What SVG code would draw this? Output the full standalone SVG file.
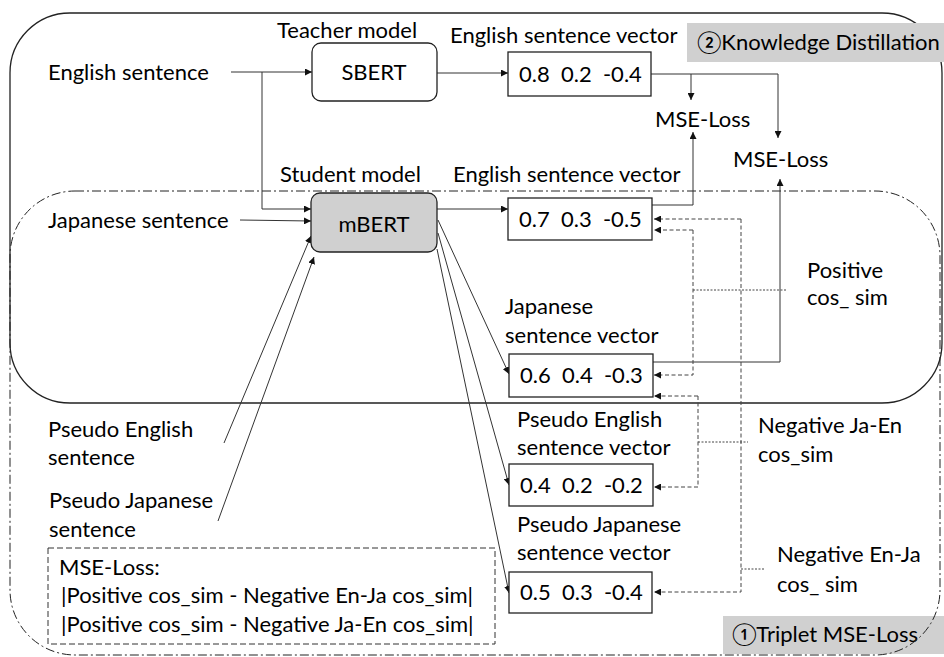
<svg xmlns="http://www.w3.org/2000/svg" width="944" height="657" viewBox="0 0 944 657">
<style>
text{font-family:Lato,"Liberation Sans","DejaVu Sans",sans-serif;font-size:22px;fill:#000}
.val{font-size:22px}
.box{fill:#fff;stroke:#222;stroke-width:1.3}
.ln{fill:none;stroke:#333;stroke-width:1}
.dash{fill:none;stroke:#444;stroke-width:1;stroke-dasharray:4 2.5}
.dot{fill:none;stroke:#444;stroke-width:1;stroke-dasharray:2 1.5}
.tag{fill:#d0d0d0}
</style>
<defs>
<marker id="ah" viewBox="0 0 10 10" refX="10" refY="5" markerWidth="7" markerHeight="7" markerUnits="userSpaceOnUse" orient="auto"><path d="M0,0 L10,5 L0,10 z" fill="#111"/></marker>
</defs>
<g id="frame-kd">
<rect x="10" y="13" width="932" height="390" rx="60" ry="60" fill="none" stroke="#222" stroke-width="1.3"/>
</g>
<g id="label-kd"><rect class="tag" x="687" y="23" width="257" height="39"/><text x="697" y="50">②Knowledge Distillation</text></g>
<g id="label-triplet"><rect class="tag" x="723" y="616" width="221" height="38"/><text x="732" y="642">①Triplet MSE-Loss</text></g>
<g id="frame-triplet">
<rect x="10" y="191" width="930" height="464" rx="65" ry="65" fill="none" stroke="#222" stroke-width="1" stroke-dasharray="9 3 2 3"/>
</g>
<g id="connectors">
<polyline class="ln" points="231,72 312,72" marker-end="url(#ah)"/>
<polyline class="ln" points="262,72 262,209 311,209" marker-end="url(#ah)"/>
<polyline class="ln" points="240,220 311,221" marker-end="url(#ah)"/>
<line class="ln" x1="224" y1="443" x2="311" y2="236" marker-end="url(#ah)"/>
<line class="ln" x1="218" y1="521" x2="314" y2="257" marker-end="url(#ah)"/>
<line class="ln" x1="437" y1="73" x2="508" y2="73" marker-end="url(#ah)"/>
<line class="ln" x1="437" y1="209" x2="508" y2="209" marker-end="url(#ah)"/>
<line class="ln" x1="438" y1="220" x2="509" y2="374" marker-end="url(#ah)"/>
<line class="ln" x1="438" y1="233" x2="509" y2="485" marker-end="url(#ah)"/>
<line class="ln" x1="437" y1="249" x2="509" y2="593" marker-end="url(#ah)"/>
<polyline class="ln" points="651,74 778,74 778,138" marker-end="url(#ah)"/>
<polyline class="ln" points="691,74 691,100" marker-end="url(#ah)"/>
<polyline class="ln" points="652,205 693,205 693,132" marker-end="url(#ah)"/>
<polyline class="ln" points="653,362 780,362 780,179" marker-end="url(#ah)"/>
<polyline class="dash" points="741,219 654,219" marker-end="url(#ah)"/>
<polyline class="dash" points="741,219 741,592 654,592" marker-end="url(#ah)"/>
<polyline class="dot" points="741,569 765,569"/>
<polyline class="dash" points="693,230 654,230" marker-end="url(#ah)"/>
<polyline class="dash" points="693,230 693,375 654,375" marker-end="url(#ah)"/>
<polyline class="dot" points="693,290 787,290"/>
<polyline class="dash" points="698,396 654,396" marker-end="url(#ah)"/>
<polyline class="dash" points="698,396 698,487 654,487" marker-end="url(#ah)"/>
<polyline class="dot" points="698,442 748,442"/>
</g>
<g id="english-sentence"><text x="48" y="80">English sentence</text></g>
<g id="japanese-sentence"><text x="48" y="228">Japanese sentence</text></g>
<g id="pseudo-english"><text x="48" y="437">Pseudo English</text><text x="48" y="465">sentence</text></g>
<g id="pseudo-japanese"><text x="49" y="508">Pseudo Japanese</text><text x="49" y="537">sentence</text></g>
<g id="sbert"><text x="277" y="38">Teacher model</text><rect class="box" x="312" y="43" width="125" height="58" rx="9"/><text x="374" y="80" text-anchor="middle">SBERT</text></g>
<g id="mbert"><text x="280" y="182">Student model</text><rect x="311" y="193" width="126" height="59" rx="9" fill="#d0d0d0" stroke="#222" stroke-width="1.3"/><text x="374" y="232" text-anchor="middle">mBERT</text></g>
<g id="vec-en-teacher"><text x="450" y="43">English sentence vector</text><rect class="box" x="508" y="52" width="143" height="44"/><text class="val" x="519" y="82" xml:space="preserve">0.8  0.2  -0.4</text></g>
<g id="vec-en-student"><text x="453" y="182">English sentence vector</text><rect class="box" x="508" y="198" width="144" height="42"/><text class="val" x="519" y="227" xml:space="preserve">0.7  0.3  -0.5</text></g>
<g id="vec-ja"><text x="505" y="314">Japanese</text><text x="505" y="343">sentence vector</text><rect class="box" x="509" y="354" width="144" height="43"/><text class="val" x="520" y="383" xml:space="preserve">0.6  0.4  -0.3</text></g>
<g id="vec-pseudo-en"><text x="517" y="427">Pseudo English</text><text x="517" y="455">sentence vector</text><rect class="box" x="509" y="464" width="144" height="42"/><text class="val" x="520" y="493" xml:space="preserve">0.4  0.2  -0.2</text></g>
<g id="vec-pseudo-ja"><text x="517" y="532">Pseudo Japanese</text><text x="517" y="560">sentence vector</text><rect class="box" x="509" y="572" width="143" height="41"/><text class="val" x="520" y="600" xml:space="preserve">0.5  0.3  -0.4</text></g>
<g id="mse-loss-1"><text x="655" y="127">MSE-Loss</text></g>
<g id="mse-loss-2"><text x="733" y="167">MSE-Loss</text></g>
<g id="positive"><text x="807" y="278">Positive</text><text x="807" y="305">cos_ sim</text></g>
<g id="negative-ja-en"><text x="758" y="433">Negative Ja-En</text><text x="758" y="462">cos_sim</text></g>
<g id="negative-en-ja"><text x="777" y="562">Negative En-Ja</text><text x="777" y="592">cos_ sim</text></g>
<g id="formula"><rect x="48" y="548" width="447" height="96" fill="none" stroke="#333" stroke-width="1" stroke-dasharray="6 3"/><text x="59" y="575">MSE-Loss:</text><text x="61" y="603">|Positive cos_sim - Negative En-Ja cos_sim|</text><text x="61" y="632">|Positive cos_sim - Negative Ja-En cos_sim|</text></g>
</svg>
